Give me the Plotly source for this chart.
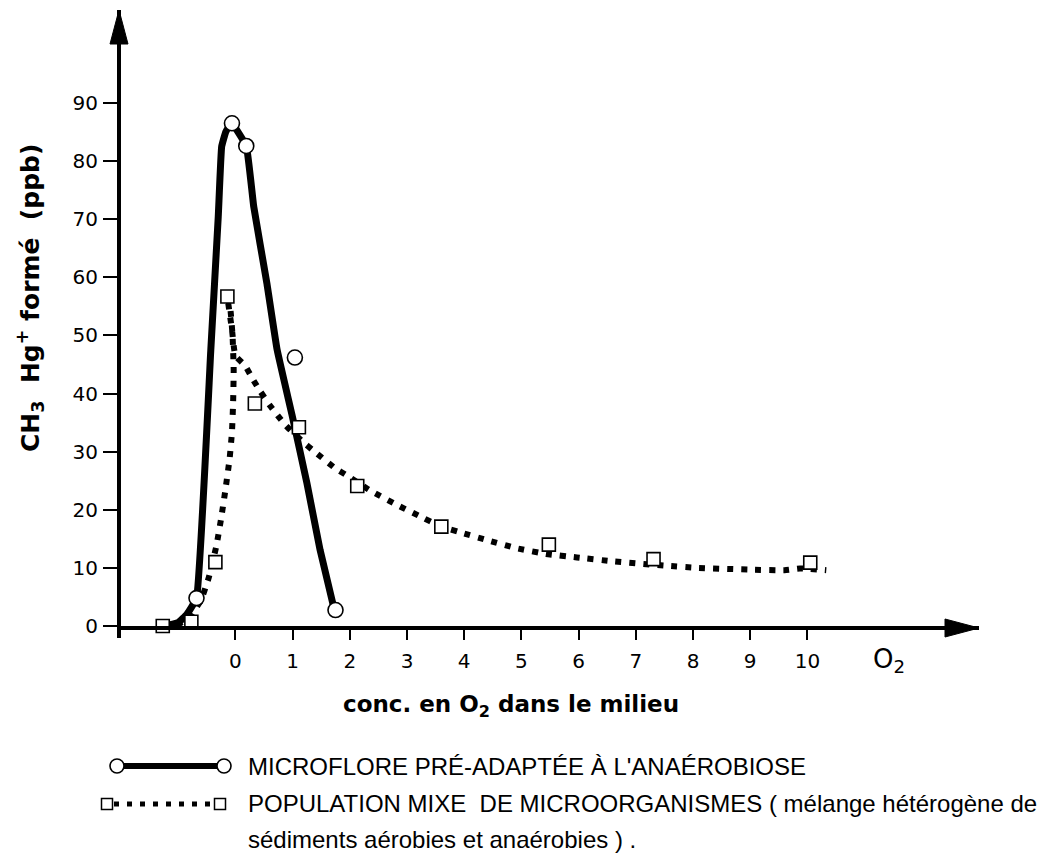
import plotly.graph_objects as go

# ---------------- data ----------------
# Solid curve: "microflore pré-adaptée à l'anaérobiose"
solid_curve_x = [-1.25, -1.0, -0.85, -0.68, -0.43, -0.30, -0.24,
                 -0.17, -0.10, -0.06, 0.19, 0.32, 0.55, 0.73, 0.99,
                 1.25, 1.48, 1.73]
solid_curve_y = [0.0, 0.6, 2.0, 4.8, 47.5, 70.4, 82.5,
                 85.0, 86.2, 86.5, 82.6, 72.2, 59.0, 47.5, 36.3,
                 24.6, 13.1, 2.75]
circle_x = [-0.68, -0.06, 0.19, 1.04, 1.75]
circle_y = [4.8, 86.5, 82.6, 46.2, 2.75]

# Dotted curve: "population mixe de microorganismes"
dotted_curve_x = [-1.27, -1.0, -0.8, -0.6, -0.47, -0.33, -0.245, -0.175, -0.10,
                  -0.06, -0.04, -0.03, -0.05, -0.09, -0.14, -0.06, 0.0, 0.17,
                  0.32, 0.44, 0.60, 0.74, 0.89, 1.18, 1.36, 1.75, 1.95, 2.36,
                  2.81, 3.2, 3.6, 3.9, 4.43, 4.91, 5.43, 5.97, 6.63, 7.49, 8.1,
                  9.0, 9.6, 9.87, 10.33]
dotted_curve_y = [0.0, 0.3, 1.5, 4.5, 8.2, 13.9, 18.8, 23.4, 28.9,
                  33.4, 38.4, 44.1, 50.0, 54.7, 56.7, 51.0, 46.5, 44.8,
                  42.2, 40.3, 38.0, 36.2, 34.4, 31.7, 30.2, 27.1, 25.9, 23.3,
                  20.9, 19.0, 17.1, 16.2, 14.7, 13.4, 12.4, 11.8, 11.1, 10.4, 10.0,
                  9.7, 9.6, 9.9, 9.6]
square_x = [-1.27, -0.77, -0.35, -0.14, 0.34, 1.11, 2.13, 3.6, 5.48, 7.31, 10.05]
square_y = [0.0, 0.74, 11.0, 56.7, 38.3, 34.2, 24.1, 17.1, 14.0, 11.5, 10.9]

x_ticks = list(range(0, 11))
x_ticklabels = [str(v) for v in x_ticks]
y_ticks = list(range(0, 100, 10))
y_ticklabels = [str(v) for v in y_ticks]

legend_labels = [
    "MICROFLORE PRÉ-ADAPTÉE À L'ANAÉROBIOSE",
    "POPULATION MIXE\u00a0 DE MICROORGANISMES ( mélange hétérogène de",
    "sédiments aérobies et anaérobies ) .",
]

# ---------------- layout geometry (pixels) ----------------
W, H = 1044, 856
ML, MR, MT, MB = 121, 65, 10, 230
PW = W - ML - MR
PH = H - MT - MB


def PX(px):
    return (px - ML) / PW


def PY(py):
    return (H - MB - py) / PH


TICK_FONT = dict(family="DejaVu Sans", size=20, color="black")
LEG_FONT = dict(family="Liberation Sans, Arial, sans-serif", size=24, color="black")

fig = go.Figure()

fig.add_trace(go.Scatter(
    x=solid_curve_x, y=solid_curve_y, mode="lines",
    line=dict(color="black", width=7, shape="spline", smoothing=0.3),
    cliponaxis=False, hoverinfo="skip"))
fig.add_trace(go.Scatter(
    x=dotted_curve_x, y=dotted_curve_y, mode="lines",
    line=dict(color="black", width=6, dash="6px,8px", shape="spline", smoothing=0.4),
    cliponaxis=False, hoverinfo="skip"))
fig.add_trace(go.Scatter(
    x=circle_x, y=circle_y, mode="markers",
    marker=dict(symbol="circle", size=15, color="white",
                line=dict(color="black", width=1.6)),
    cliponaxis=False, name=legend_labels[0]))
fig.add_trace(go.Scatter(
    x=square_x, y=square_y, mode="markers",
    marker=dict(symbol="square", size=13, color="white",
                line=dict(color="black", width=1.6)),
    cliponaxis=False, name=legend_labels[1]))

shapes = []
# y-axis continues a little below the x-axis
shapes.append(dict(type="line", xref="paper", yref="paper",
                   x0=PX(119), x1=PX(119), y0=PY(626), y1=PY(638),
                   line=dict(color="black", width=4)))
# arrow heads
ax_tip, ax_base, ay = PX(979), PX(945), PY(628)
shapes.append(dict(type="path", xref="paper", yref="paper",
                   path=f"M {ax_base},{ay + 9 / PH} L {ax_tip},{ay} L {ax_base},{ay - 9 / PH} Z",
                   fillcolor="black", line=dict(color="black", width=1)))
bx, by_tip, by_base = PX(119), PY(10), PY(44)
shapes.append(dict(type="path", xref="paper", yref="paper",
                   path=f"M {bx - 9 / PW},{by_base} L {bx},{by_tip} L {bx + 9 / PW},{by_base} Z",
                   fillcolor="black", line=dict(color="black", width=1)))

# legend swatches
r1 = PY(766)
shapes.append(dict(type="line", xref="paper", yref="paper",
                   x0=PX(124), x1=PX(217), y0=r1, y1=r1,
                   line=dict(color="black", width=6)))
for cx in (117, 224):
    shapes.append(dict(type="circle", xref="paper", yref="paper",
                       x0=PX(cx - 7), x1=PX(cx + 7), y0=r1 - 7 / PH, y1=r1 + 7 / PH,
                       fillcolor="white", line=dict(color="black", width=1.6)))
r2 = PY(804)
shapes.append(dict(type="line", xref="paper", yref="paper",
                   x0=PX(114), x1=PX(213), y0=r2, y1=r2,
                   line=dict(color="black", width=5, dash="5px,8px")))
for cx in (107, 220):
    shapes.append(dict(type="rect", xref="paper", yref="paper",
                       x0=PX(cx - 5.5), x1=PX(cx + 5.5), y0=r2 - 5.5 / PH, y1=r2 + 5.5 / PH,
                       fillcolor="white", line=dict(color="black", width=1.5)))

annotations = [
    dict(text="<b>conc. en O<sub>2</sub> dans le milieu</b>", x=PX(511), y=PY(706),
         xref="paper", yref="paper", showarrow=False, xanchor="center", yanchor="middle",
         font=dict(family="DejaVu Sans", size=23, color="black")),
    dict(text="O<sub>2</sub>", x=PX(889), y=PY(660),
         xref="paper", yref="paper", showarrow=False, xanchor="center", yanchor="middle",
         font=dict(family="DejaVu Sans", size=26, color="black")),
    dict(text="<b>CH<sub>3</sub>\u00a0 Hg<sup>+</sup> formé\u00a0 (ppb)</b>", x=PX(30), y=PY(298),
         xref="paper", yref="paper", showarrow=False, xanchor="center", yanchor="middle",
         textangle=-90, font=dict(family="DejaVu Sans", size=25, color="black")),
    dict(text=legend_labels[0], x=PX(246), y=PY(766), xref="paper", yref="paper",
         showarrow=False, xanchor="left", yanchor="middle", font=LEG_FONT),
    dict(text=legend_labels[1], x=PX(246), y=PY(804), xref="paper", yref="paper",
         showarrow=False, xanchor="left", yanchor="middle", font=LEG_FONT),
    dict(text=legend_labels[2], x=PX(246), y=PY(839), xref="paper", yref="paper",
         showarrow=False, xanchor="left", yanchor="middle", font=LEG_FONT),
]

fig.update_layout(
    width=W, height=H,
    margin=dict(l=ML, r=MR, t=MT, b=MB, pad=0),
    paper_bgcolor="white", plot_bgcolor="white",
    showlegend=False,
    shapes=shapes, annotations=annotations,
    xaxis=dict(range=[-2, 13], showgrid=False, zeroline=False,
               showline=True, linewidth=4, linecolor="black",
               ticks="outside", ticklen=10, tickwidth=2, tickcolor="black",
               tickvals=x_ticks, ticktext=x_ticklabels, tickfont=TICK_FONT,
               ticklabelstandoff=4, fixedrange=True),
    yaxis=dict(range=[0, 106], showgrid=False, zeroline=False,
               showline=True, linewidth=4, linecolor="black",
               ticks="outside", ticklen=14, tickwidth=2, tickcolor="black",
               tickvals=y_ticks, ticktext=y_ticklabels, tickfont=TICK_FONT,
               ticklabelstandoff=1, fixedrange=True),
)

fig.write_html("out.html")
